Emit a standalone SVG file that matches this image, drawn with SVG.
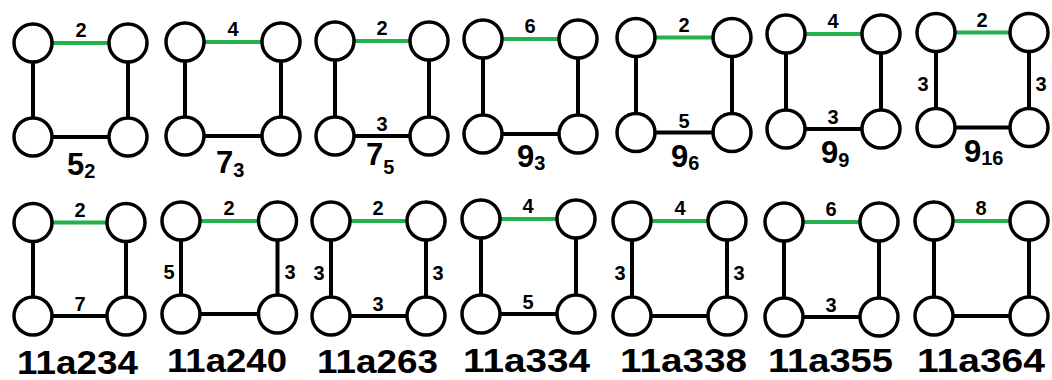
<svg xmlns="http://www.w3.org/2000/svg" width="1052" height="380" viewBox="0 0 1052 380">
<style>
.e{stroke:#000;stroke-width:4;fill:none}
.g{stroke:#22b14c;stroke-width:4;fill:none}
.n{fill:#fff;stroke:#000;stroke-width:3.5}
.el{font-family:"Liberation Sans",Arial,sans-serif;font-weight:bold;font-size:20px;fill:#000;text-anchor:middle}
.t{font-family:"Liberation Sans",Arial,sans-serif;font-weight:bold;font-size:31px;fill:#000}
.s{font-size:20px}
.b{font-family:"Liberation Sans",Arial,sans-serif;font-weight:bold;font-size:33px;fill:#000}
</style>
<rect width="1052" height="380" fill="#fff"/>
<g id="connectors">
<!-- d1 -->
<line class="g" x1="33" y1="43" x2="128" y2="43"/><line class="e" x1="33" y1="43" x2="33" y2="137"/><line class="e" x1="128" y1="43" x2="128" y2="137"/><line class="e" x1="33" y1="137" x2="128" y2="137"/>
<!-- d2 -->
<line class="g" x1="185" y1="42" x2="281" y2="42"/><line class="e" x1="185" y1="42" x2="185" y2="136"/><line class="e" x1="281" y1="42" x2="281" y2="136"/><line class="e" x1="185" y1="136" x2="281" y2="136"/>
<!-- d3 -->
<line class="g" x1="335" y1="41" x2="429" y2="41"/><line class="e" x1="335" y1="41" x2="335" y2="136"/><line class="e" x1="429" y1="41" x2="429" y2="136"/><line class="e" x1="335" y1="136" x2="429" y2="136"/>
<!-- d4 -->
<line class="g" x1="483" y1="39" x2="578" y2="39"/><line class="e" x1="483" y1="39" x2="483" y2="134"/><line class="e" x1="578" y1="39" x2="578" y2="134"/><line class="e" x1="483" y1="134" x2="578" y2="134"/>
<!-- d5 -->
<line class="g" x1="636" y1="37.5" x2="732" y2="37.5"/><line class="e" x1="636" y1="37.5" x2="636" y2="132.5"/><line class="e" x1="732" y1="37.5" x2="732" y2="132.5"/><line class="e" x1="636" y1="132.5" x2="732" y2="132.5"/>
<!-- d6 -->
<line class="g" x1="786" y1="34" x2="881" y2="34"/><line class="e" x1="786" y1="34" x2="786" y2="129"/><line class="e" x1="881" y1="34" x2="881" y2="129"/><line class="e" x1="786" y1="129" x2="881" y2="129"/>
<!-- d7 -->
<line class="g" x1="936" y1="32.5" x2="1029" y2="32.5"/><line class="e" x1="936" y1="32.5" x2="936" y2="127.5"/><line class="e" x1="1029" y1="32.5" x2="1029" y2="127.5"/><line class="e" x1="936" y1="127.5" x2="1029" y2="127.5"/>
<!-- d8 -->
<line class="g" x1="33" y1="222.5" x2="126" y2="222.5"/><line class="e" x1="33" y1="222.5" x2="33" y2="316"/><line class="e" x1="126" y1="222.5" x2="126" y2="316"/><line class="e" x1="33" y1="316" x2="126" y2="316"/>
<!-- d9 -->
<line class="g" x1="181" y1="221" x2="277.5" y2="221"/><line class="e" x1="181" y1="221" x2="181" y2="314"/><line class="e" x1="277.5" y1="221" x2="277.5" y2="314"/><line class="e" x1="181" y1="314" x2="277.5" y2="314"/>
<!-- d10 -->
<line class="g" x1="331" y1="221" x2="426" y2="221"/><line class="e" x1="331" y1="221" x2="331" y2="316"/><line class="e" x1="426" y1="221" x2="426" y2="316"/><line class="e" x1="331" y1="316" x2="426" y2="316"/>
<!-- d11 -->
<line class="g" x1="481" y1="219" x2="576" y2="219"/><line class="e" x1="481" y1="219" x2="481" y2="314"/><line class="e" x1="576" y1="219" x2="576" y2="314"/><line class="e" x1="481" y1="314" x2="576" y2="314"/>
<!-- d12 -->
<line class="g" x1="632" y1="221" x2="727" y2="221"/><line class="e" x1="632" y1="221" x2="632" y2="316"/><line class="e" x1="727" y1="221" x2="727" y2="316"/><line class="e" x1="632" y1="316" x2="727" y2="316"/>
<!-- d13 -->
<line class="g" x1="784" y1="222" x2="879" y2="222"/><line class="e" x1="784" y1="222" x2="784" y2="317"/><line class="e" x1="879" y1="222" x2="879" y2="317"/><line class="e" x1="784" y1="317" x2="879" y2="317"/>
<!-- d14 -->
<line class="g" x1="934" y1="221" x2="1029" y2="221"/><line class="e" x1="934" y1="221" x2="934" y2="316"/><line class="e" x1="1029" y1="221" x2="1029" y2="316"/><line class="e" x1="934" y1="316" x2="1029" y2="316"/>
</g>
<g id="edge-labels">
<text class="el" x="81" y="37">2</text>
<text class="el" x="233" y="36">4</text>
<text class="el" x="382" y="35">2</text><text class="el" x="382" y="131">3</text>
<text class="el" x="530" y="33">6</text>
<text class="el" x="684" y="31.5">2</text><text class="el" x="684" y="127.5">5</text>
<text class="el" x="833" y="28">4</text><text class="el" x="833" y="124">3</text>
<text class="el" x="982" y="26.5">2</text><text class="el" x="923" y="91">3</text><text class="el" x="1041" y="91">3</text>
<text class="el" x="80" y="216.5">2</text><text class="el" x="80" y="311">7</text>
<text class="el" x="229" y="215">2</text><text class="el" x="169" y="278.5">5</text><text class="el" x="290" y="278.5">3</text>
<text class="el" x="378" y="215">2</text><text class="el" x="319" y="279.5">3</text><text class="el" x="438" y="279.5">3</text><text class="el" x="378" y="311">3</text>
<text class="el" x="528" y="213">4</text><text class="el" x="528" y="309">5</text>
<text class="el" x="680" y="215">4</text><text class="el" x="620" y="279.5">3</text><text class="el" x="739" y="279.5">3</text>
<text class="el" x="831" y="216">6</text><text class="el" x="831" y="312">3</text>
<text class="el" x="981" y="215">8</text>
</g>
<g id="nodes">
<g id="d1-tl"><circle class="n" cx="33" cy="43" r="19"/></g><g id="d1-tr"><circle class="n" cx="128" cy="43" r="19"/></g><g id="d1-bl"><circle class="n" cx="33" cy="137" r="19"/></g><g id="d1-br"><circle class="n" cx="128" cy="137" r="19"/></g>
<g id="d2-tl"><circle class="n" cx="185" cy="42" r="19"/></g><g id="d2-tr"><circle class="n" cx="281" cy="42" r="19"/></g><g id="d2-bl"><circle class="n" cx="185" cy="136" r="19"/></g><g id="d2-br"><circle class="n" cx="281" cy="136" r="19"/></g>
<g id="d3-tl"><circle class="n" cx="335" cy="41" r="19"/></g><g id="d3-tr"><circle class="n" cx="429" cy="41" r="19"/></g><g id="d3-bl"><circle class="n" cx="335" cy="136" r="19"/></g><g id="d3-br"><circle class="n" cx="429" cy="136" r="19"/></g>
<g id="d4-tl"><circle class="n" cx="483" cy="39" r="19"/></g><g id="d4-tr"><circle class="n" cx="578" cy="39" r="19"/></g><g id="d4-bl"><circle class="n" cx="483" cy="134" r="19"/></g><g id="d4-br"><circle class="n" cx="578" cy="134" r="19"/></g>
<g id="d5-tl"><circle class="n" cx="636" cy="37.5" r="19"/></g><g id="d5-tr"><circle class="n" cx="732" cy="37.5" r="19"/></g><g id="d5-bl"><circle class="n" cx="636" cy="132.5" r="19"/></g><g id="d5-br"><circle class="n" cx="732" cy="132.5" r="19"/></g>
<g id="d6-tl"><circle class="n" cx="786" cy="34" r="19"/></g><g id="d6-tr"><circle class="n" cx="881" cy="34" r="19"/></g><g id="d6-bl"><circle class="n" cx="786" cy="129" r="19"/></g><g id="d6-br"><circle class="n" cx="881" cy="129" r="19"/></g>
<g id="d7-tl"><circle class="n" cx="936" cy="32.5" r="19"/></g><g id="d7-tr"><circle class="n" cx="1029" cy="32.5" r="19"/></g><g id="d7-bl"><circle class="n" cx="936" cy="127.5" r="19"/></g><g id="d7-br"><circle class="n" cx="1029" cy="127.5" r="19"/></g>
<g id="d8-tl"><circle class="n" cx="33" cy="222.5" r="19"/></g><g id="d8-tr"><circle class="n" cx="126" cy="222.5" r="19"/></g><g id="d8-bl"><circle class="n" cx="33" cy="316" r="19"/></g><g id="d8-br"><circle class="n" cx="126" cy="316" r="19"/></g>
<g id="d9-tl"><circle class="n" cx="181" cy="221" r="19"/></g><g id="d9-tr"><circle class="n" cx="277.5" cy="221" r="19"/></g><g id="d9-bl"><circle class="n" cx="181" cy="314" r="19"/></g><g id="d9-br"><circle class="n" cx="277.5" cy="314" r="19"/></g>
<g id="d10-tl"><circle class="n" cx="331" cy="221" r="19"/></g><g id="d10-tr"><circle class="n" cx="426" cy="221" r="19"/></g><g id="d10-bl"><circle class="n" cx="331" cy="316" r="19"/></g><g id="d10-br"><circle class="n" cx="426" cy="316" r="19"/></g>
<g id="d11-tl"><circle class="n" cx="481" cy="219" r="19"/></g><g id="d11-tr"><circle class="n" cx="576" cy="219" r="19"/></g><g id="d11-bl"><circle class="n" cx="481" cy="314" r="19"/></g><g id="d11-br"><circle class="n" cx="576" cy="314" r="19"/></g>
<g id="d12-tl"><circle class="n" cx="632" cy="221" r="19"/></g><g id="d12-tr"><circle class="n" cx="727" cy="221" r="19"/></g><g id="d12-bl"><circle class="n" cx="632" cy="316" r="19"/></g><g id="d12-br"><circle class="n" cx="727" cy="316" r="19"/></g>
<g id="d13-tl"><circle class="n" cx="784" cy="222" r="19"/></g><g id="d13-tr"><circle class="n" cx="879" cy="222" r="19"/></g><g id="d13-bl"><circle class="n" cx="784" cy="317" r="19"/></g><g id="d13-br"><circle class="n" cx="879" cy="317" r="19"/></g>
<g id="d14-tl"><circle class="n" cx="934" cy="221" r="19"/></g><g id="d14-tr"><circle class="n" cx="1029" cy="221" r="19"/></g><g id="d14-bl"><circle class="n" cx="934" cy="316" r="19"/></g><g id="d14-br"><circle class="n" cx="1029" cy="316" r="19"/></g>
</g>
<g id="titles">
<text class="t" x="67" y="175">5<tspan class="s" dy="3">2</tspan></text>
<text class="t" x="216" y="173">7<tspan class="s" dy="4">3</tspan></text>
<text class="t" x="366" y="165">7<tspan class="s" dy="9">5</tspan></text>
<text class="t" x="517" y="167">9<tspan class="s" dy="3">3</tspan></text>
<text class="t" x="671" y="167">9<tspan class="s" dy="3">6</tspan></text>
<text class="t" x="821" y="163">9<tspan class="s" dy="4">9</tspan></text>
<text class="t" x="964" y="162">9<tspan class="s" dy="3">16</tspan></text>
<text class="b" x="17" y="374" textLength="121" lengthAdjust="spacingAndGlyphs">11a234</text>
<text class="b" x="167" y="372" textLength="120" lengthAdjust="spacingAndGlyphs">11a240</text>
<text class="b" x="317" y="373" textLength="121" lengthAdjust="spacingAndGlyphs">11a263</text>
<text class="b" x="463" y="372" textLength="127" lengthAdjust="spacingAndGlyphs">11a334</text>
<text class="b" x="620" y="372" textLength="127" lengthAdjust="spacingAndGlyphs">11a338</text>
<text class="b" x="768" y="372" textLength="125" lengthAdjust="spacingAndGlyphs">11a355</text>
<text class="b" x="917" y="372" textLength="128" lengthAdjust="spacingAndGlyphs">11a364</text>
</g>
</svg>
